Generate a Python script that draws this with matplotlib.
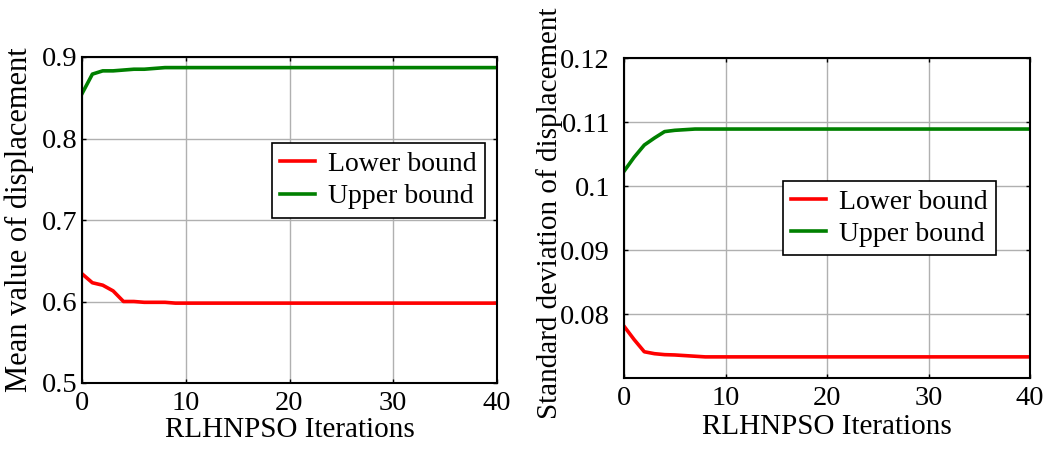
import matplotlib.pyplot as plt

plt.rcParams['font.family'] = ['Liberation Serif', 'DejaVu Serif']
plt.rcParams['font.size'] = 20.5
plt.rcParams['axes.linewidth'] = 1.5

iterations = list(range(41))

mean_lower = [0.634, 0.623, 0.620, 0.613, 0.600, 0.600, 0.599, 0.599, 0.599, 0.598,
              0.598, 0.598, 0.598, 0.598, 0.598, 0.598, 0.598, 0.598, 0.598, 0.598,
              0.598, 0.598, 0.598, 0.598, 0.598, 0.598, 0.598, 0.598, 0.598, 0.598,
              0.598, 0.598, 0.598, 0.598, 0.598, 0.598, 0.598, 0.598, 0.598, 0.598,
              0.598]
mean_upper = [0.855, 0.879, 0.883, 0.883, 0.884, 0.885, 0.885, 0.886, 0.887, 0.887,
              0.887, 0.887, 0.887, 0.887, 0.887, 0.887, 0.887, 0.887, 0.887, 0.887,
              0.887, 0.887, 0.887, 0.887, 0.887, 0.887, 0.887, 0.887, 0.887, 0.887,
              0.887, 0.887, 0.887, 0.887, 0.887, 0.887, 0.887, 0.887, 0.887, 0.887,
              0.887]

std_lower = [0.0781, 0.0760, 0.0741, 0.0738, 0.07365, 0.0736, 0.0735, 0.0734, 0.0733, 0.0733,
             0.0733, 0.0733, 0.0733, 0.0733, 0.0733, 0.0733, 0.0733, 0.0733, 0.0733, 0.0733,
             0.0733, 0.0733, 0.0733, 0.0733, 0.0733, 0.0733, 0.0733, 0.0733, 0.0733, 0.0733,
             0.0733, 0.0733, 0.0733, 0.0733, 0.0733, 0.0733, 0.0733, 0.0733, 0.0733, 0.0733,
             0.0733]
std_upper = [0.1023, 0.1045, 0.1064, 0.1075, 0.1085, 0.1087, 0.1088, 0.1089, 0.1089, 0.1089,
             0.1089, 0.1089, 0.1089, 0.1089, 0.1089, 0.1089, 0.1089, 0.1089, 0.1089, 0.1089,
             0.1089, 0.1089, 0.1089, 0.1089, 0.1089, 0.1089, 0.1089, 0.1089, 0.1089, 0.1089,
             0.1089, 0.1089, 0.1089, 0.1089, 0.1089, 0.1089, 0.1089, 0.1089, 0.1089, 0.1089,
             0.1089]

x_ticks = [0, 10, 20, 30, 40]
mean_ticks = [0.5, 0.6, 0.7, 0.8, 0.9]
mean_ticklabels = ['0.5', '0.6', '0.7', '0.8', '0.9']
std_ticks = [0.08, 0.09, 0.10, 0.11, 0.12]
std_ticklabels = ['0.08', '0.09', '0.1', '0.11', '0.12']

fig = plt.figure(figsize=(10.51, 4.5), dpi=100)
ax1 = fig.add_axes([82/1051, 1 - 383/450, (497 - 82)/1051, (383 - 57)/450])
ax2 = fig.add_axes([624/1051, 1 - 378/450, (1030 - 624)/1051, (378 - 58)/450])


def style(ax, ypad):
    ax.grid(True, color='#b0b0b0', linewidth=1.0)
    ax.set_axisbelow(True)
    ax.tick_params(direction='in', top=True, right=True, length=3, width=1)
    ax.tick_params(axis='x', pad=6)
    ax.tick_params(axis='y', pad=ypad)
    ax.set_xlim(0, 40)
    ax.set_xticks(x_ticks)
    ax.set_xlabel('RLHNPSO Iterations', fontsize=21)


def add_legend(ax, anchor):
    leg = ax.legend(loc='upper left', bbox_to_anchor=anchor, fancybox=False, framealpha=1,
                    edgecolor='black', fontsize=20, borderpad=0.3, handlelength=1.25,
                    handletextpad=0.45, labelspacing=0.25, borderaxespad=0)
    leg.get_frame().set_linewidth(1.2)


ax1.plot(iterations, mean_lower, color='#ff0000', linewidth=2.6, label='Lower bound')
ax1.plot(iterations, mean_upper, color='#008000', linewidth=2.6, label='Upper bound')
style(ax1, 3)
ax1.set_ylim(0.5, 0.9)
ax1.set_yticks(mean_ticks)
ax1.set_yticklabels(mean_ticklabels)
ax1.set_ylabel('Mean value of displacement', fontsize=22)
ax1.yaxis.set_label_coords(-0.116, 0.5)
ax1.xaxis.set_label_coords(0.5, -0.104)
add_legend(ax1, (0.458, 0.736))

ax2.plot(iterations, std_lower, color='#ff0000', linewidth=2.6, label='Lower bound')
ax2.plot(iterations, std_upper, color='#008000', linewidth=2.6, label='Upper bound')
style(ax2, 10)
ax2.set_ylim(0.07, 0.12)
ax2.set_yticks(std_ticks)
ax2.set_yticklabels(std_ticklabels)
ax2.set_ylabel('Standard deviation of displacement', fontsize=21)
ax2.yaxis.set_label_coords(-0.150, 0.515)
ax2.xaxis.set_label_coords(0.5, -0.1125)
add_legend(ax2, (0.392, 0.616))

fig.savefig('out.png', dpi=100)
